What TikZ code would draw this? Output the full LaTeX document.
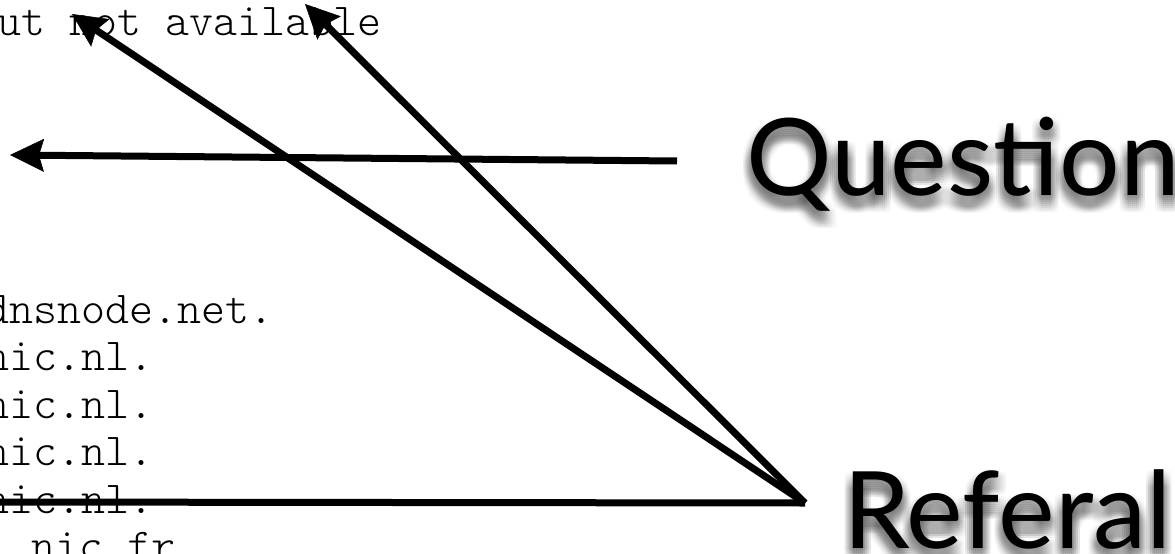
\documentclass[tikz,border=0pt]{standalone}
\usepackage{fontspec}
\IfFontExistsTF{Latin Modern Mono Light}{\setmonofont{Latin Modern Mono Light}}{}
\newfontfamily\titlefont{Lato}
\usetikzlibrary{arrows.meta}
\begin{document}
\begin{tikzpicture}[x=1pt,y=-1pt,
  arr/.style={line width=7pt, -{Stealth[length=34pt,width=33pt,inset=5pt,line width=0.5pt]}},
  bar/.style={line width=7pt},
  code/.style={font=\ttfamily\fontsize{45.7}{55}\selectfont, anchor=base west, inner sep=0pt},
  title/.style={font=\titlefont\fontsize{107}{120}\selectfont, anchor=base west, inner sep=0pt},
  shade/.style={title, text=black, opacity=0.012}]
\useasboundingbox (0,0) rectangle (1175,554);
\clip (0,0) rectangle (1175,554);
\fill[white] (0,0) rectangle (1175,554);
% code text
\node[code] (l0) at (-3,35) {ut not available};
\node[code] (l1) at (-15,323) {dnsnode.net.};
\node[code] (l2) at (-15,370.5) {nic.nl.};
\node[code] (l3) at (-15,418) {nic.nl.};
\node[code] (l4) at (-15,465.5) {nic.nl.};
\node[code] (l5) at (-15,513) {nic.nl.};
\node[code] (l6) at (31,560.5) {nic.fr};
% title shadows
\foreach \dx in {-8,-6,...,8} {
  \foreach \dy in {-8,-6,...,8} {
    \node[shade] (qs\dx\dy) at (746+\dx,204+\dy) {Question};
    \node[shade] (rs\dx\dy) at (843+\dx,557+\dy) {Referal};
  }
}
% titles
\node[title] (question) at (746,195) {Question};
\node[title] (referal) at (843,548) {Referal};
% connectors
\coordinate (J) at (805,503);
\coordinate (tipA) at (72,14);
\coordinate (tipB) at (305,4);
\coordinate (hend) at (-10,502);
\coordinate (qstart) at (677,161);
\coordinate (qtip) at (10,155);
\draw[arr] (qstart) -- (qtip);
\draw[arr] (J) -- (tipA);
\draw[arr] (J) -- (tipB);
\draw[bar] (J) -- (hend);
\end{tikzpicture}
\end{document}
